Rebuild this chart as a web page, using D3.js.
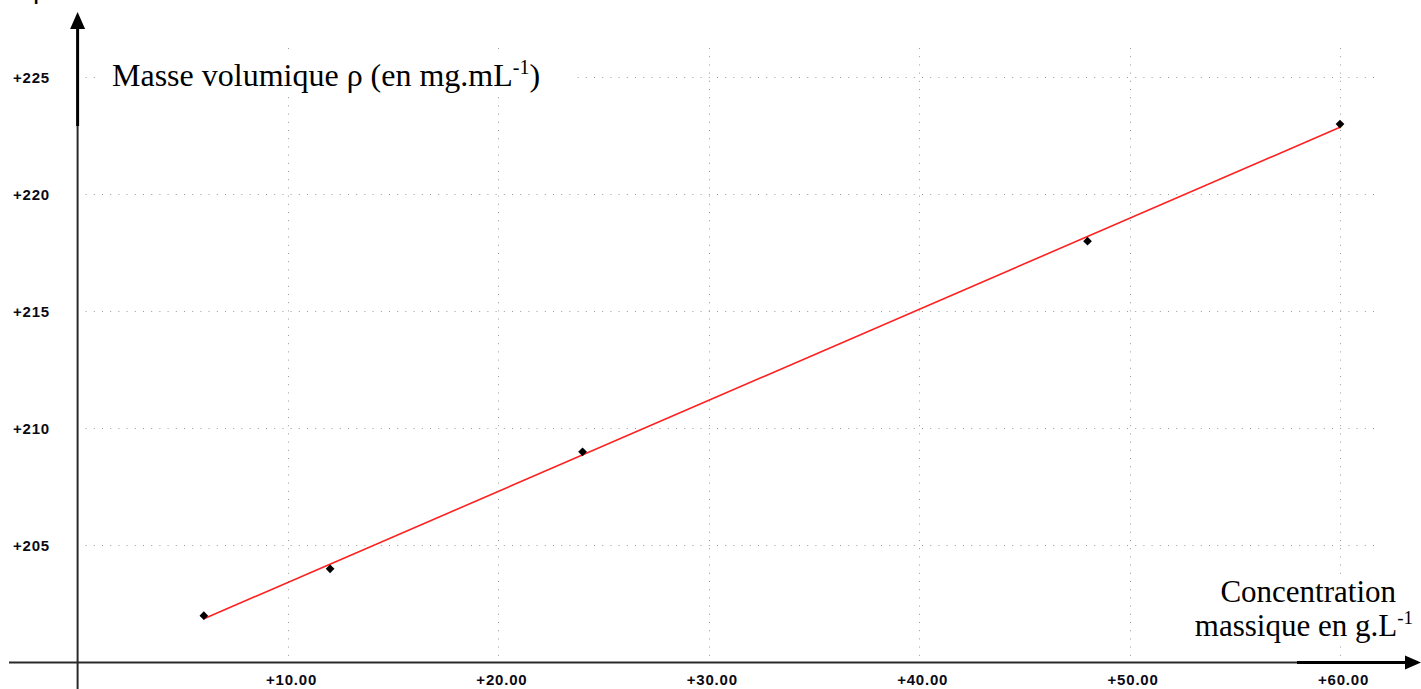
<!DOCTYPE html>
<html>
<head>
<meta charset="utf-8">
<script src="https://cdn.jsdelivr.net/npm/d3@7"></script>
<style>
  html, body { margin: 0; padding: 0; background: #fff; }
  svg { display: block; }
</style>
</head>
<body>
<svg id="chart" width="1421" height="689"></svg>
<script>
// Concentration massique (g/L) et masse volumique mesurée (mg/mL)
const concentrations = [6, 12, 24, 48, 60];
const masses = [202, 204, 209, 218, 223];
const xTicks = [10, 20, 30, 40, 50, 60];
const yTicks = [205, 210, 215, 220, 225];

const svg = d3.select("#chart");
const W = 1421, H = 689;

const x = d3.scaleLinear().domain([0, 60]).range([77.6, 1340]);
const y = d3.scaleLinear().domain([200, 225]).range([662.5, 77.3]);

const grid = svg.append("g").attr("stroke", "#9a9a9a").attr("stroke-width", 1)
  .attr("stroke-dasharray", "1,7.2").attr("fill", "none");

// vertical grid lines
grid.selectAll("line.v").data(xTicks).join("line")
  .attr("x1", d => Math.round(x(d)) + 0.5).attr("x2", d => Math.round(x(d)) + 0.5)
  .attr("y1", 48).attr("y2", y(200));

// horizontal grid lines
grid.selectAll("line.h").data(yTicks).join("line")
  .attr("x1", x(0) + 8).attr("x2", 1380)
  .attr("y1", d => Math.round(y(d)) + 0.5).attr("y2", d => Math.round(y(d)) + 0.5);

const tickFont = sel => sel
  .attr("font-family", "'Liberation Sans', Arial, sans-serif").attr("font-weight", "bold")
  .attr("font-size", 15).attr("letter-spacing", 0.8).attr("fill", "#0a0a14");

// x tick labels
const xAxis = d3.axisBottom(x).tickValues(xTicks).tickSize(0).tickPadding(0)
  .tickFormat(d => "+" + d.toFixed(2));
const gx = svg.append("g").attr("transform", `translate(3,${y(200) + 22})`).call(xAxis);
gx.select(".domain").remove();
gx.selectAll("text").attr("dy", 0).call(tickFont);

// y tick labels
const yAxis = d3.axisLeft(y).tickValues(yTicks).tickSize(0).tickPadding(0)
  .tickFormat(d => "+" + d);
const gy = svg.append("g").attr("transform", `translate(50,0)`).call(yAxis);
gy.select(".domain").remove();
gy.selectAll("text").attr("dy", "0.36em").call(tickFont);

// axes
const x0 = x(0), y0 = y(200);
svg.append("line").attr("x1", x0).attr("x2", x0).attr("y1", 125).attr("y2", H)
  .attr("stroke", "#2a2a2a").attr("stroke-width", 2);
svg.append("line").attr("x1", x0).attr("x2", x0).attr("y1", 28).attr("y2", 126)
  .attr("stroke", "#000").attr("stroke-width", 3);
svg.append("path").attr("d", `M${x0},12 L${x0 - 7.5},29 L${x0 + 7.5},29 Z`).attr("fill", "#000");

svg.append("line").attr("x1", 9).attr("x2", 1298).attr("y1", y0).attr("y2", y0)
  .attr("stroke", "#2a2a2a").attr("stroke-width", 2);
svg.append("line").attr("x1", 1297).attr("x2", 1410).attr("y1", y0).attr("y2", y0)
  .attr("stroke", "#000").attr("stroke-width", 3);
svg.append("path").attr("d", `M1421,${y0} L1405,${y0 - 7} L1405,${y0 + 7} Z`).attr("fill", "#000");

// least-squares fit through the measurements
const mx = d3.mean(concentrations), my = d3.mean(masses);
const sxy = d3.sum(concentrations, (c, i) => (c - mx) * (masses[i] - my));
const sxx = d3.sum(concentrations, c => (c - mx) * (c - mx));
const slope = sxy / sxx, intercept = my - slope * mx;
const ext = d3.extent(concentrations);
svg.append("line")
  .attr("x1", x(ext[0])).attr("y1", y(intercept + slope * ext[0]))
  .attr("x2", x(ext[1])).attr("y2", y(intercept + slope * ext[1]))
  .attr("stroke", "#ff2020").attr("stroke-width", 1.6);

// measured points
svg.selectAll("path.pt").data(concentrations).join("path")
  .attr("class", "pt")
  .attr("d", d3.symbol(d3.symbolSquare, 38))
  .attr("transform", (c, i) => `translate(${x(c)},${y(masses[i])}) rotate(45)`)
  .attr("fill", "#000");

// axis titles
const serif = "'Liberation Serif', 'Times New Roman', serif";
svg.append("text").attr("x", 33).attr("y", -2).attr("font-family", serif)
  .attr("font-size", 30).text("ρ");

const yt = svg.append("g");
const ytRect = yt.append("rect").attr("fill", "#fff");
const ytText = yt.append("text").attr("x", 112).attr("y", 86)
  .attr("font-family", serif).attr("font-size", 32).attr("fill", "#000");
ytText.append("tspan").text("Masse volumique ρ (en mg.mL");
ytText.append("tspan").attr("dy", -12).attr("font-size", 20).text("-1");
ytText.append("tspan").attr("dy", 12).text(")");
const b1 = ytText.node().getBBox();
ytRect.attr("x", b1.x - 14).attr("y", b1.y - 2).attr("width", b1.width + 50).attr("height", b1.height + 4);

const xt = svg.append("g");
const xtRect = xt.append("rect").attr("fill", "#fff");
const xtText = xt.append("text").attr("font-family", serif).attr("font-size", 31)
  .attr("fill", "#000").attr("text-anchor", "end");
xtText.append("tspan").attr("x", 1396).attr("y", 602).text("Concentration");
const l2 = xtText.append("tspan").attr("x", 1413).attr("y", 636);
l2.append("tspan").text("massique en g.L");
l2.append("tspan").attr("dy", -12).attr("font-size", 19).text("-1");
const b2 = xtText.node().getBBox();
xtRect.attr("x", b2.x - 4).attr("y", b2.y).attr("width", b2.width + 8).attr("height", b2.height + 2);
</script>
</body>
</html>
